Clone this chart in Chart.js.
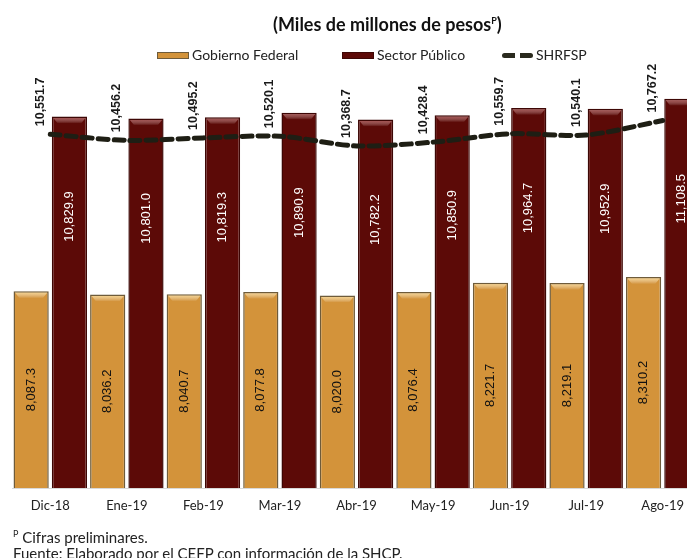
<!DOCTYPE html>
<html>
<head>
<meta charset="utf-8">
<script src="https://cdn.jsdelivr.net/npm/chart.js@4.4.1/dist/chart.umd.min.js"></script>
<style>
  html, body { margin: 0; padding: 0; background: #fff; overflow: hidden; }
  body { width: 687px; height: 558px; position: relative; font-family: Lato, "Liberation Sans", sans-serif; }
  #wrap { position: absolute; left: 0; top: 0; width: 712px; height: 558px; }
  #title { position: absolute; left: 273px; top: 10px; font: bold 18px Lato, sans-serif; color: #111; white-space: nowrap; line-height: 22px; }
  #title sup { font-size: 9px; }
  #legend { position: absolute; left: 0; top: 46px; width: 687px; height: 20px; font-size: 14px; color: #222; white-space: nowrap; }
  #legend span.item { position: absolute; top: 0; line-height: 18px; }
  #legend i { display: inline-block; width: 32px; height: 7px; vertical-align: middle; margin-right: 3px; box-sizing: border-box; position: relative; top: -1px; }
  #legend i.dash { height: 5px; width: 31px; background: linear-gradient(to right, #2a2a1e 0 13px, transparent 13px 18px, #2a2a1e 18px 31px); border-radius: 3px; }
  #notes { position: absolute; left: 13px; top: 526px; font-size: 15px; color: #222; line-height: 16px; }
  #notes sup { font-size: 9px; }
</style>
</head>
<body>
<div id="wrap"><canvas id="deuda"></canvas></div>
<div id="title">(Miles de millones de pesos<sup>P</sup>)</div>
<div id="legend"></div>
<div id="notes"><sup>P</sup> Cifras preliminares.<br>Fuente: Elaborado por el CEFP con información de la SHCP.</div>
<script>
// Datos (miles de millones de pesos)
const meses = ['Dic-18', 'Ene-19', 'Feb-19', 'Mar-19', 'Abr-19', 'May-19', 'Jun-19', 'Jul-19', 'Ago-19'];
const gobiernoFederal = [8087.3, 8036.2, 8040.7, 8077.8, 8020.0, 8076.4, 8221.7, 8219.1, 8310.2];
const sectorPublico = [10829.9, 10801.0, 10819.3, 10890.9, 10782.2, 10850.9, 10964.7, 10952.9, 11108.5];
const shrfsp = [10551.7, 10456.2, 10495.2, 10520.1, 10368.7, 10428.4, 10559.7, 10540.1, 10767.2];

const fmt = v => v.toLocaleString('en-US', { minimumFractionDigits: 1, maximumFractionDigits: 1 });

// Etiquetas de datos giradas
const etiquetas = {
    id: 'etiquetas',
    afterDatasetsDraw(chart) {
        const ctx = chart.ctx;
        const fondo = chart.chartArea.bottom;
        ctx.save();
        chart.data.datasets.forEach((ds, i) => {
            const meta = chart.getDatasetMeta(i);
            meta.data.forEach((el, j) => {
                const txt = fmt(ds.data[j]);
                ctx.save();
                ctx.textBaseline = 'middle';
                if (ds.type === 'line') {
                    ctx.font = 'bold 12.5px "Liberation Sans", Arial, sans-serif';
                    ctx.fillStyle = '#1a1a1a';
                    ctx.textAlign = 'left';
                    ctx.translate(el.x - 10, el.y - 8);
                } else if (i === 0) {
                    ctx.font = '13px "Liberation Sans", Arial, sans-serif';
                    ctx.fillStyle = '#111';
                    ctx.textAlign = 'center';
                    ctx.translate(el.x, (el.y + fondo) / 2);
                } else {
                    ctx.font = '13px "Liberation Sans", Arial, sans-serif';
                    ctx.fillStyle = '#fff';
                    ctx.textAlign = 'center';
                    ctx.translate(el.x, el.y + 100);
                }
                ctx.rotate(-Math.PI / 2);
                ctx.fillText(txt, 0, 0);
                ctx.restore();
            });
        });
        ctx.restore();
    }
};

// Bisel en la parte superior de las barras
const bisel = {
    id: 'bisel',
    afterDatasetDraw(chart, args) {
        const ds = chart.data.datasets[args.index];
        if (ds.type === 'line') return;
        const ctx = chart.ctx;
        ctx.save();
        args.meta.data.forEach(el => {
            const w = el.width, x0 = el.x - w / 2, y0 = el.y;
            const g = ctx.createLinearGradient(0, y0, 0, y0 + 7);
            g.addColorStop(0, ds.bevel);
            g.addColorStop(1, 'rgba(255,255,255,0)');
            ctx.fillStyle = g;
            ctx.beginPath();
            ctx.moveTo(x0 + 1.5, y0 + 1.5);
            ctx.lineTo(x0 + w - 1.5, y0 + 1.5);
            ctx.lineTo(x0 + w - 6, y0 + 7);
            ctx.lineTo(x0 + 6, y0 + 7);
            ctx.closePath();
            ctx.fill();
        });
        ctx.restore();
    }
};

const chart = new Chart(document.getElementById('deuda'), {
    data: {
        labels: meses,
        datasets: [{
            type: 'bar',
            label: 'Gobierno Federal',
            data: gobiernoFederal,
            backgroundColor: '#D3933A',
            borderColor: '#6e5b3a',
            borderWidth: 1.5,
            bevel: 'rgba(255,225,150,0.9)',
            order: 1
        }, {
            type: 'bar',
            label: 'Sector Público',
            data: sectorPublico,
            backgroundColor: '#5C0A07',
            borderColor: '#3d0705',
            borderWidth: 1.5,
            bevel: 'rgba(190,90,90,0.8)',
            order: 1
        }, {
            type: 'line',
            label: 'SHRFSP',
            data: shrfsp,
            borderColor: '#1e1e14',
            borderWidth: 5,
            borderDash: [10, 6],
            borderCapStyle: 'round',
            tension: 0.3,
            pointRadius: 0,
            fill: false,
            order: 0
        }]
    },
    options: {
        responsive: true,
        maintainAspectRatio: false,
        animation: false,
        layout: { padding: { top: 42, bottom: 40, left: 12, right: 11 } },
        datasets: { bar: { categoryPercentage: 1.0, barPercentage: 0.92 } },
        plugins: {
            legend: { display: false },
            tooltip: { enabled: false }
        },
        scales: {
            x: {
                grid: { display: false, drawTicks: false },
                border: { color: '#d9d9d9', width: 1 },
                ticks: { color: '#222', padding: 10, font: { family: 'Lato', size: 13 } },
                afterFit(scale) { scale.height = 30; }
            },
            y: {
                display: false,
                min: 5000,
                max: 12000
            }
        }
    },
    plugins: [bisel, etiquetas]
});

// Leyenda en HTML
const posLeyenda = [157, 342, 502];
const leyenda = document.getElementById('legend');
chart.data.datasets.forEach((ds, k) => {
    const item = document.createElement('span');
    item.className = 'item';
    item.style.left = posLeyenda[k] + 'px';
    const sw = document.createElement('i');
    if (ds.type === 'line') {
        sw.className = 'dash';
    } else {
        sw.style.background = ds.backgroundColor;
        sw.style.border = '1px solid ' + ds.borderColor;
    }
    item.appendChild(sw);
    item.appendChild(document.createTextNode(ds.label));
    leyenda.appendChild(item);
});
</script>
</body>
</html>
